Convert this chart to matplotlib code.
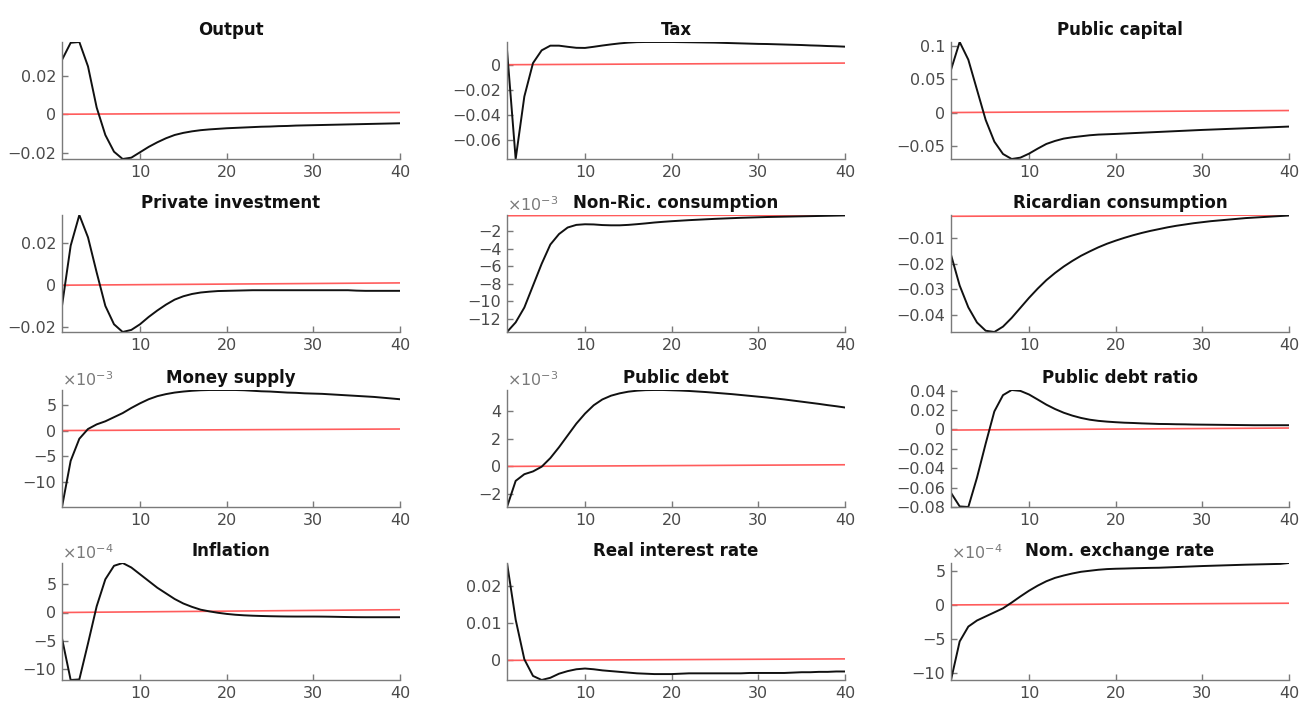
import numpy as np
import matplotlib
matplotlib.use("Agg")
import matplotlib.pyplot as plt
from matplotlib.ticker import FuncFormatter

plt.rcParams["font.family"] = ["DejaVu Sans"]

periods = list(range(1, 41))
ref_x = [1, 40]

titles = [
    "Output", "Tax", "Public capital",
    "Private investment", "Non-Ric. consumption", "Ricardian consumption",
    "Money supply", "Public debt", "Public debt ratio",
    "Inflation", "Real interest rate", "Nom. exchange rate",
]

output = [0.0283, 0.0372, 0.0376, 0.0249, 0.0035, -0.0108, -0.0195, -0.0233, -0.0226, -0.0198,
          -0.0170, -0.0146, -0.0125, -0.0108, -0.0097, -0.0089, -0.0083, -0.0079, -0.0076, -0.0073,
          -0.0071, -0.0069, -0.0067, -0.0065, -0.0064, -0.0062, -0.0061, -0.0059, -0.0058, -0.0057,
          -0.0056, -0.0055, -0.0054, -0.0053, -0.0052, -0.0051, -0.0050, -0.0049, -0.0048, -0.0047]
tax = [0.0119, -0.0747, -0.0252, 0.0013, 0.0114, 0.0151, 0.0151, 0.0142, 0.0134, 0.0133,
       0.0142, 0.0152, 0.0161, 0.0169, 0.0175, 0.0179, 0.0180, 0.0180, 0.0180, 0.0180,
       0.0179, 0.0178, 0.0177, 0.0176, 0.0175, 0.0173, 0.0171, 0.0169, 0.0167, 0.0165,
       0.0164, 0.0162, 0.0160, 0.0158, 0.0156, 0.0153, 0.0151, 0.0148, 0.0146, 0.0143]
public_capital = [0.064, 0.1055, 0.079, 0.034, -0.011, -0.0435, -0.062, -0.0695, -0.0675, -0.0615,
                  -0.054, -0.047, -0.0425, -0.039, -0.037, -0.0355, -0.034, -0.033, -0.0325, -0.032,
                  -0.0314, -0.0308, -0.0302, -0.0296, -0.029, -0.0284, -0.0278, -0.0272, -0.0266, -0.026,
                  -0.0255, -0.025, -0.0245, -0.024, -0.0235, -0.023, -0.0225, -0.022, -0.0215, -0.021]
private_investment = [-0.0099, 0.0189, 0.0336, 0.0229, 0.0061, -0.0099, -0.0187, -0.0224, -0.0214, -0.0187,
                      -0.0152, -0.0121, -0.0093, -0.0069, -0.0053, -0.0042, -0.0035, -0.0031, -0.0028, -0.0027,
                      -0.0026, -0.0025, -0.0024, -0.0024, -0.0024, -0.0024, -0.0024, -0.0024, -0.0024, -0.0024,
                      -0.0024, -0.0024, -0.0024, -0.0024, -0.0026, -0.0027, -0.0027, -0.0027, -0.0027, -0.0027]
nonric_cons = [-13.5, -12.4, -10.7, -8.2, -5.7, -3.5, -2.3, -1.55, -1.25, -1.18,
               -1.2, -1.27, -1.3, -1.3, -1.25, -1.17, -1.08, -0.98, -0.9, -0.83,
               -0.77, -0.71, -0.66, -0.61, -0.56, -0.52, -0.48, -0.44, -0.41, -0.38,
               -0.35, -0.33, -0.31, -0.29, -0.27, -0.25, -0.23, -0.21, -0.19, -0.17]
ric_cons = [-0.0165, -0.0285, -0.037, -0.0429, -0.0461, -0.0466, -0.0445, -0.0411, -0.0372, -0.0333,
            -0.0297, -0.0264, -0.0236, -0.0211, -0.0189, -0.0169, -0.0152, -0.0136, -0.0122, -0.011,
            -0.0099, -0.0089, -0.008, -0.0072, -0.0065, -0.0058, -0.0052, -0.0047, -0.0042, -0.0038,
            -0.0034, -0.0031, -0.0028, -0.0025, -0.0022, -0.002, -0.0018, -0.0016, -0.0014, -0.0012]
money_supply = [-14.9, -5.9, -1.6, 0.3, 1.2, 1.8, 2.6, 3.4, 4.4, 5.3,
                6.1, 6.7, 7.1, 7.4, 7.6, 7.75, 7.85, 7.9, 7.9, 7.9,
                7.9, 7.85, 7.75, 7.65, 7.6, 7.5, 7.4, 7.35, 7.25, 7.2,
                7.15, 7.05, 6.95, 6.85, 6.75, 6.65, 6.55, 6.4, 6.25, 6.1]
public_debt = [-2.92, -1.04, -0.56, -0.36, -0.02, 0.6, 1.38, 2.23, 3.08, 3.8,
               4.4, 4.82, 5.09, 5.26, 5.38, 5.45, 5.49, 5.5, 5.5, 5.48,
               5.46, 5.43, 5.39, 5.35, 5.3, 5.25, 5.2, 5.14, 5.08, 5.02,
               4.96, 4.89, 4.82, 4.74, 4.66, 4.58, 4.5, 4.41, 4.33, 4.24]
debt_ratio = [-0.0654, -0.0794, -0.0800, -0.0497, -0.0147, 0.0185, 0.0353, 0.0406, 0.0397, 0.036,
              0.0308, 0.0255, 0.021, 0.0172, 0.0142, 0.0118, 0.01, 0.0088, 0.008, 0.0074,
              0.0069, 0.0066, 0.0062, 0.0059, 0.0056, 0.0055, 0.0053, 0.0052, 0.005, 0.0049,
              0.0048, 0.0047, 0.0046, 0.0045, 0.0044, 0.0043, 0.0043, 0.0043, 0.0043, 0.0043]
inflation = [-4.6, -12.0, -11.9, -5.5, 1.1, 5.9, 8.3, 8.8, 8.0, 6.8,
             5.6, 4.4, 3.4, 2.4, 1.6, 1.0, 0.5, 0.2, -0.05, -0.25,
             -0.4, -0.5, -0.57, -0.62, -0.66, -0.69, -0.71, -0.72, -0.72, -0.72,
             -0.73, -0.75, -0.78, -0.81, -0.83, -0.84, -0.84, -0.84, -0.84, -0.84]
real_rate = [0.0263, 0.011, 0.0003, -0.0042, -0.0053, -0.0047, -0.0036, -0.0029, -0.0024, -0.0022,
             -0.0024, -0.0027, -0.0029, -0.0031, -0.0033, -0.0035, -0.0036, -0.0037, -0.0037, -0.0037,
             -0.0036, -0.0035, -0.0035, -0.0035, -0.0035, -0.0035, -0.0035, -0.0035, -0.0034, -0.0034,
             -0.0034, -0.0034, -0.0034, -0.0033, -0.0032, -0.0032, -0.0031, -0.0031, -0.003, -0.003]
exchange_rate = [-11.1, -5.4, -3.2, -2.3, -1.7, -1.1, -0.5, 0.35, 1.25, 2.1,
                 2.85, 3.5, 4.0, 4.35, 4.65, 4.9, 5.05, 5.2, 5.3, 5.35,
                 5.38, 5.42, 5.45, 5.48, 5.5, 5.55, 5.6, 5.65, 5.7, 5.75,
                 5.79, 5.83, 5.87, 5.91, 5.95, 5.98, 6.01, 6.04, 6.07, 6.2]

series = [output, tax, public_capital, private_investment, nonric_cons, ric_cons,
          money_supply, public_debt, debt_ratio, inflation, real_rate, exchange_rate]

# red reference line (start, end)
ref_lines = [[0, 0.0009], [0, 0.0013], [0, 0.003],
             [0, 0.0011], [-0.2, -0.12], [-0.0015, -0.0010],
             [0, 0.3], [0, 0.12], [-0.0007, 0.0014],
             [0, 0.5], [0, 0.0004], [0, 0.25]]

# exponent shown above the axis (None = no multiplier)
exponents = [None, None, None, None, -3, None, -3, -3, None, -4, None, -4]

yticks = [[-0.02, 0, 0.02], [-0.06, -0.04, -0.02, 0], [-0.05, 0, 0.05, 0.1],
          [-0.02, 0, 0.02], [-12, -10, -8, -6, -4, -2], [-0.04, -0.03, -0.02, -0.01],
          [-10, -5, 0, 5], [-2, 0, 2, 4], [-0.08, -0.06, -0.04, -0.02, 0, 0.02, 0.04],
          [-10, -5, 0, 5], [0, 0.01, 0.02], [-10, -5, 0, 5]]

W, H = 1300, 705
fig = plt.figure(figsize=(13, 7.05), dpi=100)

col_left = [62, 507, 951]
row_top = [42, 215, 390, 563]
ax_w, ax_h = 338, 117

axis_col = "#7a7a7a"
text_col = "#4a4a4a"

for i, (title, y) in enumerate(zip(titles, series)):
    r, c = divmod(i, 3)
    left = col_left[c] / W
    bottom = 1 - (row_top[r] + ax_h) / H
    ax = fig.add_axes([left, bottom, ax_w / W, ax_h / H])

    ax.plot(ref_x, ref_lines[i], color="#ff5c5c", lw=1.2)
    ax.plot(periods, y, color="#111111", lw=1.4)

    ax.margins(x=0, y=0)
    ax.set_xlim(1, 40)
    ax.set_xticks([10, 20, 30, 40])
    ax.set_yticks(yticks[i])
    ax.yaxis.set_major_formatter(FuncFormatter(lambda v, p: ("%g" % round(v, 6)).replace("-", "\u2212")))

    for side in ["top", "right"]:
        ax.spines[side].set_visible(False)
    for side in ["left", "bottom"]:
        ax.spines[side].set_color(axis_col)
        ax.spines[side].set_linewidth(1.0)
    ax.tick_params(direction="in", length=4, width=1.0, color=axis_col,
                   labelcolor=text_col, labelsize=11.5, pad=4)

    ax.set_title(title, fontsize=12, fontweight="bold", color="#111111", pad=5)

    if exponents[i] is not None:
        ax.text(0.0, 1.01, r"$\times$10$^{%d}$" % exponents[i], transform=ax.transAxes,
                ha="left", va="bottom", fontsize=11.5, color="#7a7a7a")

fig.savefig("out.png", dpi=100, facecolor="white")
